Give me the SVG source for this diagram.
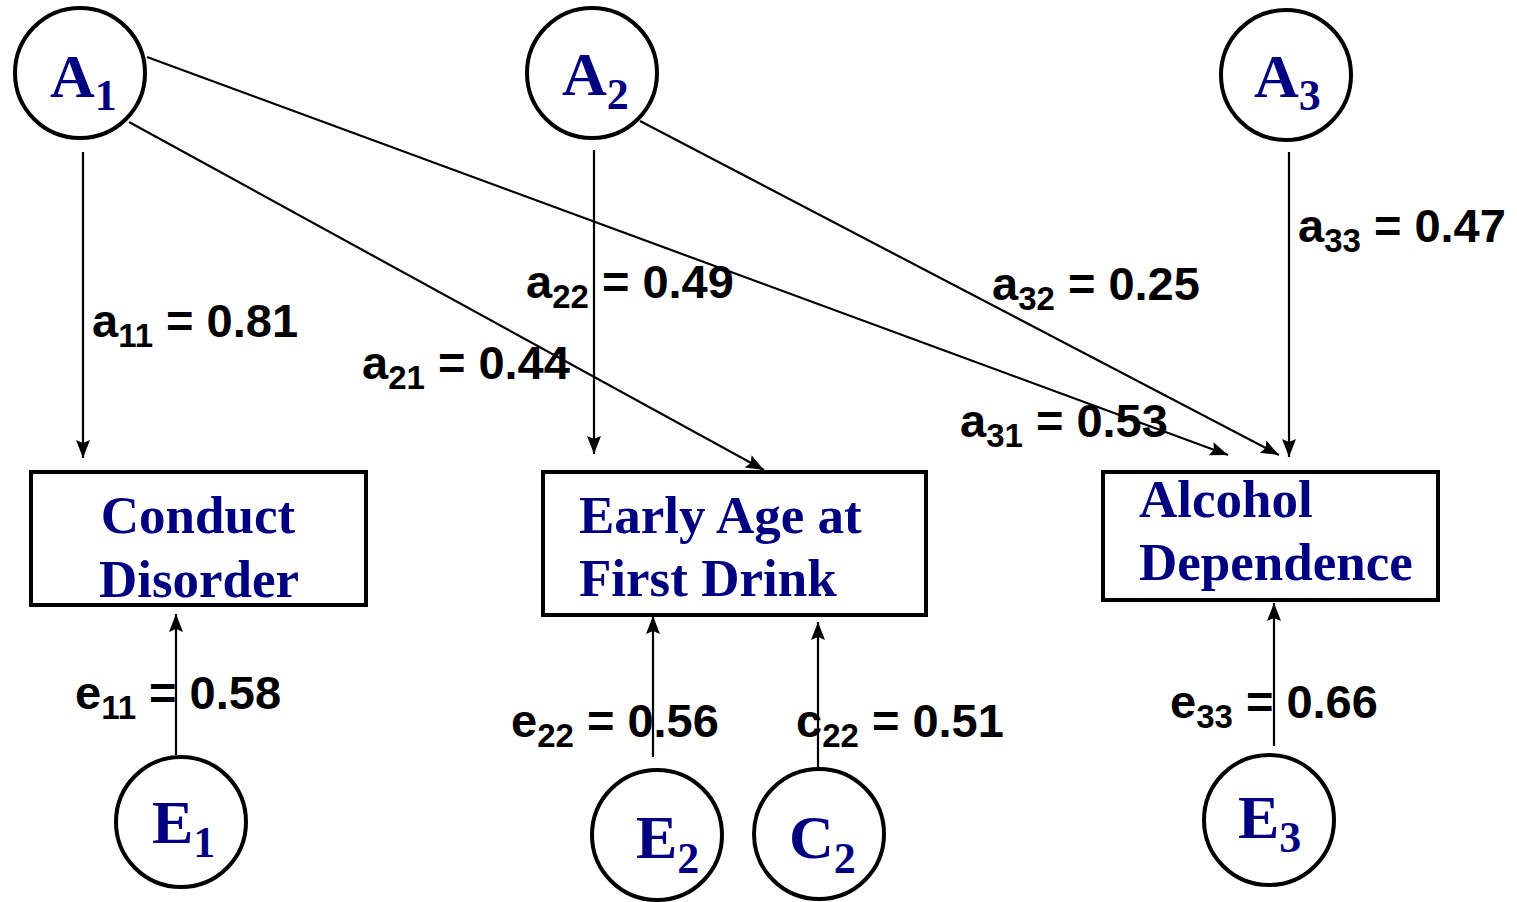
<svg xmlns="http://www.w3.org/2000/svg" width="1517" height="902" viewBox="0 0 1517 902">
  <style>
    .bg { fill: #ffffff; }
    .latent { fill: #ffffff; stroke: #000000; stroke-width: 4; }
    .observed { fill: #ffffff; stroke: #000000; stroke-width: 4; }
    .lbl-node { font-family: "Liberation Serif", "Times New Roman", serif; font-weight: bold; fill: #000080; }
    .big { font-size: 62px; }
    .bigsub { font-size: 44px; }
    .boxtxt { font-size: 53px; }
    .path { stroke: #000000; stroke-width: 2.2; fill: none; marker-end: url(#arrow); }
    .coef { font-family: "Liberation Sans", Arial, sans-serif; font-weight: bold; font-size: 47px; fill: #000000; }
    .csub { font-size: 33px; }
  </style>
  <defs>
    <marker id="arrow" markerUnits="userSpaceOnUse" markerWidth="20" markerHeight="16" refX="18" refY="7" orient="auto">
      <path d="M0,0 L18,7 L0,14 L3,7 z" fill="#000000"/>
    </marker>
  </defs>

  <rect class="bg" x="0" y="0" width="1517" height="902"/>

  <!-- path connectors -->
  <g id="connectors">
    <line class="path" x1="83" y1="152" x2="83" y2="458"/>
    <line class="path" x1="129" y1="122" x2="764" y2="470"/>
    <line class="path" x1="147" y1="57" x2="1228" y2="455"/>
    <line class="path" x1="594" y1="150" x2="594" y2="454"/>
    <line class="path" x1="640" y1="121" x2="1279" y2="455"/>
    <line class="path" x1="1289" y1="152" x2="1289" y2="457"/>
    <line class="path" x1="176" y1="755" x2="176" y2="614"/>
    <line class="path" x1="653" y1="757" x2="653" y2="616"/>
    <line class="path" x1="818" y1="767" x2="818" y2="622"/>
    <line class="path" x1="1274" y1="746" x2="1274" y2="603"/>
  </g>

  <!-- additive genetic factors -->
  <g id="A1">
    <circle class="latent" cx="80" cy="73" r="65"/>
    <text class="lbl-node big" x="50" y="97">A<tspan class="bigsub" dy="13">1</tspan></text>
  </g>
  <g id="A2">
    <circle class="latent" cx="592" cy="73" r="65"/>
    <text class="lbl-node big" x="562" y="95">A<tspan class="bigsub" dy="14">2</tspan></text>
  </g>
  <g id="A3">
    <circle class="latent" cx="1286" cy="75" r="65"/>
    <text class="lbl-node big" x="1254" y="97">A<tspan class="bigsub" dy="13">3</tspan></text>
  </g>

  <!-- observed phenotypes -->
  <g id="conduct-disorder">
    <rect class="observed" x="31" y="472" width="335" height="133"/>
    <text class="lbl-node boxtxt" x="198" y="533" text-anchor="middle">Conduct</text>
    <text class="lbl-node boxtxt" x="199" y="597" text-anchor="middle">Disorder</text>
  </g>
  <g id="early-age-first-drink">
    <rect class="observed" x="543" y="472" width="383" height="143"/>
    <text class="lbl-node boxtxt" x="579" y="533">Early Age at</text>
    <text class="lbl-node boxtxt" x="579" y="596">First Drink</text>
  </g>
  <g id="alcohol-dependence">
    <rect class="observed" x="1103" y="472" width="335" height="128"/>
    <text class="lbl-node boxtxt" x="1139" y="517">Alcohol</text>
    <text class="lbl-node boxtxt" x="1139" y="580">Dependence</text>
  </g>

  <!-- environmental factors -->
  <g id="E1">
    <circle class="latent" cx="181" cy="822" r="65"/>
    <text class="lbl-node big" x="152" y="843">E<tspan class="bigsub" dy="14">1</tspan></text>
  </g>
  <g id="E2">
    <circle class="latent" cx="657" cy="835" r="65"/>
    <text class="lbl-node big" x="636" y="858">E<tspan class="bigsub" dy="15">2</tspan></text>
  </g>
  <g id="C2">
    <circle class="latent" cx="819" cy="834" r="65"/>
    <text class="lbl-node big" x="789" y="858">C<tspan class="bigsub" dy="15">2</tspan></text>
  </g>
  <g id="E3">
    <circle class="latent" cx="1269" cy="820" r="65"/>
    <text class="lbl-node big" x="1238" y="838">E<tspan class="bigsub" dy="14">3</tspan></text>
  </g>

  <!-- path coefficients -->
  <g id="coefficients">
    <text class="coef" x="92" y="337">a<tspan class="csub" dy="10">11</tspan><tspan dy="-10"> = 0.81</tspan></text>
    <text class="coef" x="362" y="379">a<tspan class="csub" dy="10">21</tspan><tspan dy="-10"> = 0.44</tspan></text>
    <text class="coef" x="526" y="298">a<tspan class="csub" dy="10">22</tspan><tspan dy="-10"> = 0.49</tspan></text>
    <text class="coef" x="992" y="300">a<tspan class="csub" dy="10">32</tspan><tspan dy="-10"> = 0.25</tspan></text>
    <text class="coef" x="1298" y="242">a<tspan class="csub" dy="10">33</tspan><tspan dy="-10"> = 0.47</tspan></text>
    <text class="coef" x="960" y="437">a<tspan class="csub" dy="10">31</tspan><tspan dy="-10"> = 0.53</tspan></text>
    <text class="coef" x="75" y="709">e<tspan class="csub" dy="10">11</tspan><tspan dy="-10"> = 0.58</tspan></text>
    <text class="coef" x="511" y="737">e<tspan class="csub" dy="10">22</tspan><tspan dy="-10"> = 0.56</tspan></text>
    <text class="coef" x="796" y="737">c<tspan class="csub" dy="10">22</tspan><tspan dy="-10"> = 0.51</tspan></text>
    <text class="coef" x="1170" y="718">e<tspan class="csub" dy="10">33</tspan><tspan dy="-10"> = 0.66</tspan></text>
  </g>
</svg>
